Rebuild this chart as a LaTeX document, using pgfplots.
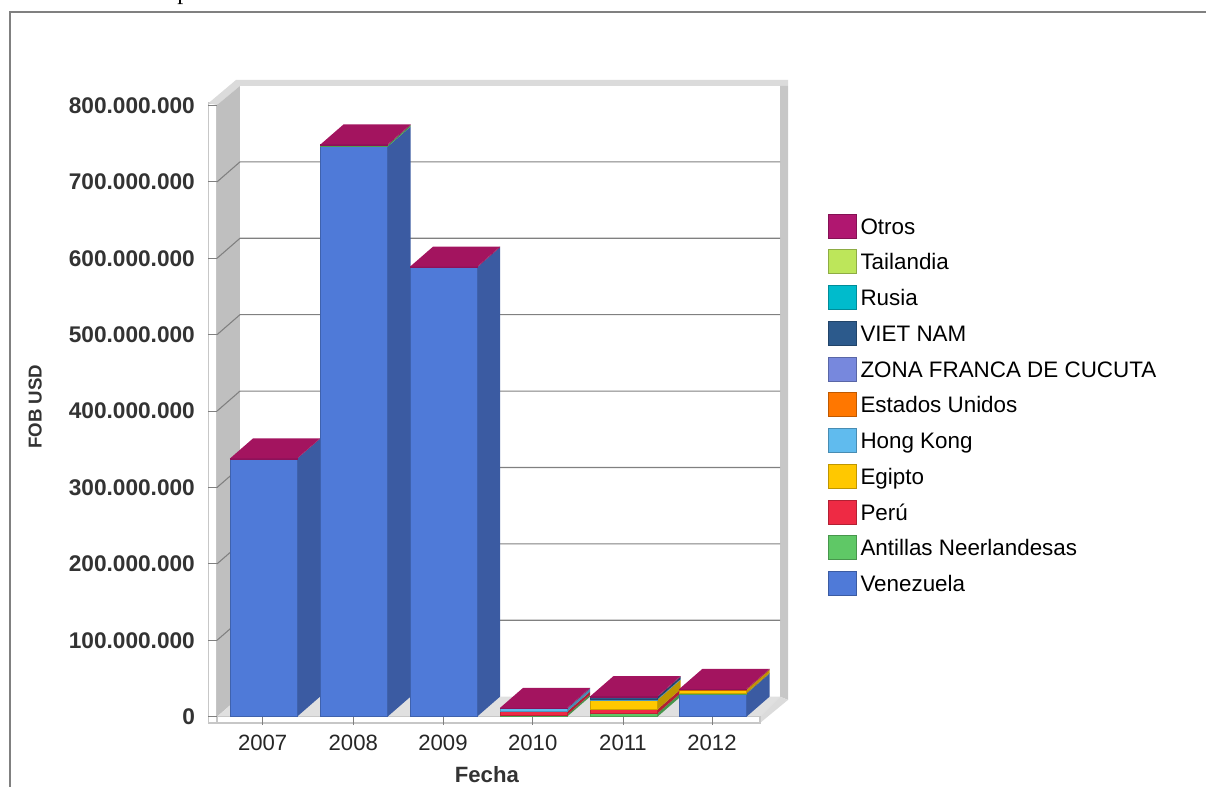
\documentclass[border=0pt]{standalone}
\usepackage{fontspec}
\setmainfont{Liberation Sans}
\newfontfamily\seriffont{Liberation Serif}
\usepackage{pgfplots}
\usepackage{pgfplotstable}
\pgfplotsset{compat=1.18}

% series colours
\definecolor{cVen}{HTML}{4F7AD8}
\definecolor{cAnt}{HTML}{5FC866}
\definecolor{cPer}{HTML}{EE2A44}
\definecolor{cEgi}{HTML}{FFC800}
\definecolor{cHK}{HTML}{60BBEE}
\definecolor{cEU}{HTML}{FF7700}
\definecolor{cZF}{HTML}{7788DD}
\definecolor{cVN}{HTML}{2C5A8C}
\definecolor{cRus}{HTML}{00BBCC}
\definecolor{cTai}{HTML}{BDE65A}
\definecolor{cOtr}{HTML}{B01770}
\definecolor{cTop}{HTML}{A3145F}
\definecolor{gridgray}{HTML}{808080}

% FOB USD in millions; xpx = left edge of the bar
\pgfplotstableread{
anio xpx  Ven   Ant Per Egi HK  EU  ZF  VN  Rus Tai Otr
2007 230  337.5 0   0   0   0   0   0   0   0   0   0.5
2008 320.5 746  2   0   0   0   0   0   0   0   0   1
2009 410  588   0   0   0   0   0   0   0   0   0   1
2010 500  0     2.5 4   0   4   0   0   0   0   0   1
2011 590.5 0    4.5 5   12.5 1  0   0   3   0   0   1
2012 679.5 30   0.7 0.5 3.5 0   1   0   0   0   0   0.8
}\datatable

\newcommand{\depthx}{23}
\newcommand{\depthy}{26.2}
\newcommand{\barw}{67}

% one stacked bar: #1 = table row
\newcommand{\drawbar}[1]{%
  \pgfplotstablegetelem{#1}{xpx}\of\datatable
  \pgfmathsetmacro{\xa}{\pgfplotsretval}%
  \pgfmathsetmacro{\xb}{\xa+\barw}%
  \pgfmathsetmacro{\xc}{\xb+\depthx}%
  \pgfmathsetmacro{\xd}{\xa+\depthx}%
  \xdef\cum{0}%
  \foreach \col in {Ven,Ant,Per,Egi,HK,EU,ZF,VN,Rus,Tai,Otr}{%
    \pgfplotstablegetelem{#1}{\col}\of\datatable
    \ifdim\pgfplotsretval pt>0pt
      \pgfmathsetmacro{\ya}{\cum}%
      \pgfmathsetmacro{\yb}{\cum+\pgfplotsretval}%
      \pgfmathsetmacro{\yc}{\ya+\depthy}%
      \pgfmathsetmacro{\yd}{\yb+\depthy}%
      \edef\temp{\noexpand\addplot[forget plot,draw=none,fill=c\col!75!black] coordinates {(\xb,\ya) (\xc,\yc) (\xc,\yd) (\xb,\yb)} --cycle;
        \noexpand\addplot[forget plot,draw=c\col!80!black,line width=0.4pt,fill=c\col] coordinates {(\xa,\ya) (\xb,\ya) (\xb,\yb) (\xa,\yb)} --cycle;}%
      \temp
      \xdef\cum{\yb}%
    \fi
  }%
  \pgfmathsetmacro{\yt}{\cum+\depthy}%
  \edef\temp{\noexpand\addplot[forget plot,draw=none,fill=cTop] coordinates {(\xa,\cum) (\xb,\cum) (\xc,\yt) (\xd,\yt)} --cycle;}%
  \temp
}

\newcommand{\swatch}[2]{%
  \addlegendimage{legend image code/.code={\draw[fill=#1,draw=#1!75!black,line width=0.7pt] (0pt,-9pt) rectangle (20.5pt,9pt);}}
  \addlegendentry{\hspace*{3pt}#2}
}

\begin{document}
\begin{tikzpicture}
\useasboundingbox (-162.75pt,-52.725pt) rectangle (741.75pt,537.525pt);
\begin{axis}[
    at={(0pt,0pt)},
    anchor=origin,
    scale only axis,
    width=407.25pt,
    height=458.4pt,
    xmin=217, xmax=760,
    ymin=0, ymax=800,
    clip=false,
    axis on top,
    axis line style={draw=none},
    tick align=outside,
    tick pos=left,
    major tick length=6.4pt,
    tick style={color=gridgray,line width=0.7pt},
    xtick={262.7,353.3,443,532.7,623,712},
    xticklabels={2007,2008,2009,2010,2011,2012},
    ytick={0,100,200,300,400,500,600,700,800},
    yticklabels={0,100.000.000,200.000.000,300.000.000,400.000.000,500.000.000,600.000.000,700.000.000,800.000.000},
    x tick label style={font=\fontsize{16.6}{20}\selectfont,text=black!85,inner sep=0pt,yshift=-7pt},
    y tick label style={font=\fontsize{17}{20}\bfseries\selectfont,text=black!80,inner sep=0pt,xshift=-10pt},
    xlabel={Fecha},
    ylabel={FOB USD},
    xlabel style={at={(axis description cs:0.497,-0.0954)},anchor=center,font=\fontsize{16.6}{20}\bfseries\selectfont,text=black!80},
    ylabel style={at={(axis description cs:-0.335,0.507)},anchor=center,rotate=0,font=\fontsize{14}{18}\bfseries\selectfont,text=black!80},
    reverse legend,
    legend cell align=left,
    legend style={
      at={(1.1178,0.8277)},anchor=north west,draw=none,fill=none,
      font=\fontsize{16.8}{20}\selectfont,
      row sep=8.1pt,
      nodes={inner sep=0pt,text depth=3pt,text height=15pt},
    },
]
% walls and floor
\fill[white,draw=black!22,line width=1pt] (axis cs:208.5,-8.25) rectangle (axis cs:217,803.1);
\fill[black!14] (axis cs:208.5,803.1) -- (axis cs:236,833.4) -- (axis cs:788,833.4) -- (axis cs:788,825.6) -- (axis cs:240,825.6) -- (axis cs:217,800.6) -- cycle;
\fill[black!25] (axis cs:217,800.6) -- (axis cs:240,825.6) -- (axis cs:240,26.2) -- (axis cs:217,0) -- cycle;
\fill[black!22] (axis cs:780,825.6) -- (axis cs:788,825.6) -- (axis cs:788,22) -- (axis cs:780,26.2) -- cycle;
\fill[black!12] (axis cs:217,0) -- (axis cs:240,26.2) -- (axis cs:780,26.2) -- (axis cs:760,0) -- cycle;
\fill[black!14] (axis cs:760,0) -- (axis cs:780,26.2) -- (axis cs:788,22) -- (axis cs:760,-8.25) -- cycle;
\fill[white,draw=black!22,line width=1pt] (axis cs:217,-8.25) rectangle (axis cs:760,0);
% grid on the side wall and the back wall
\pgfplotsinvokeforeach{100,200,300,400,500,600,700}{
  \draw[gridgray,line width=0.8pt] (axis cs:217,#1) -- (axis cs:240,#1+26.2) -- (axis cs:780,#1+26.2);
}
% bars
\drawbar{0}
\drawbar{1}
\drawbar{2}
\drawbar{3}
\drawbar{4}
\drawbar{5}
% legend
\swatch{cVen}{Venezuela}
\swatch{cAnt}{Antillas Neerlandesas}
\swatch{cPer}{Perú}
\swatch{cEgi}{Egipto}
\swatch{cHK}{Hong Kong}
\swatch{cEU}{Estados Unidos}
\swatch{cZF}{ZONA FRANCA DE CUCUTA}
\swatch{cVN}{VIET NAM}
\swatch{cRus}{Rusia}
\swatch{cTai}{Tailandia}
\swatch{cOtr}{Otros}
\end{axis}
% outer frame of the screenshot
\draw[gridgray,line width=1pt] (-155.25pt,-60pt) -- (-155.25pt,528.5pt) -- (750pt,528.5pt);
\node[anchor=base west,inner sep=0pt,font=\seriffont\fontsize{18}{20}\selectfont] at (-30pt,537.525pt) {p};
\end{tikzpicture}
\end{document}
